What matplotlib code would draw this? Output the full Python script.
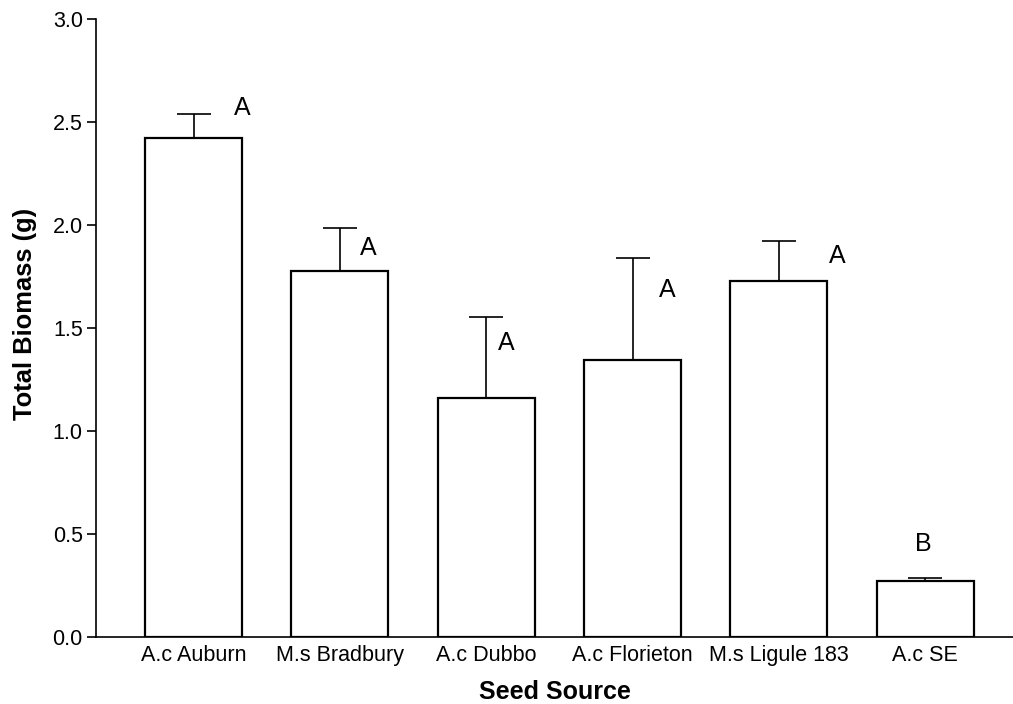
import matplotlib
matplotlib.use("Agg")
import matplotlib.pyplot as plt
import numpy as np

categories = ["A.c Auburn", "M.s Bradbury", "A.c Dubbo", "A.c Florieton", "M.s Ligule 183", "A.c SE"]
means = [2.424, 1.777, 1.159, 1.346, 1.728, 0.273]
errors = [0.115, 0.210, 0.394, 0.494, 0.194, 0.012]
letters = ["A", "A", "A", "A", "A", "B"]
yticks = [0.0, 0.5, 1.0, 1.5, 2.0, 2.5, 3.0]

# annotation placement (offsets relative to bar centre / error top)
letter_dx = [0.33, 0.195, 0.14, 0.236, 0.40, -0.01]
letter_y = [2.568, 1.888, 1.427, 1.684, 1.849, 0.451]

plt.rcParams['font.family'] = ['Liberation Sans', 'DejaVu Sans']

fig = plt.figure(figsize=(10.13, 7.04), dpi=100)
ax = fig.add_axes([96/1013, 1-637/704, 1-96/1013, (637-19)/704])

x = np.arange(len(categories))
ax.bar(x, means, width=0.664, color="white", edgecolor="black", linewidth=1.6, zorder=2)
ax.errorbar(x, means, yerr=[np.zeros(len(errors)), errors], fmt="none",
            ecolor="black", elinewidth=1.2, capsize=12.5, capthick=1.2, zorder=1)

for xi, dx, ly, t in zip(x, letter_dx, letter_y, letters):
    ax.text(xi + dx, ly, t, ha="center", va="center", fontsize=18)

ax.set_xlim(-0.667, 5.6)
ax.set_ylim(0, 3.0)
ax.set_yticks(yticks)
ax.set_yticklabels([f"{v:.1f}" for v in yticks])
ax.set_xticks(x)
ax.set_xticklabels(categories)
ax.tick_params(axis="x", length=0, labelsize=15.5, pad=6)
ax.tick_params(axis="y", length=6.5, width=1.2, labelsize=15.5, pad=3)

for s in ["top", "right"]:
    ax.spines[s].set_visible(False)
for s in ["left", "bottom"]:
    ax.spines[s].set_linewidth(1.2)

ax.set_xlabel("Seed Source", fontsize=18, fontweight="bold", labelpad=10)
ax.set_ylabel("Total Biomass (g)", fontsize=18.4, fontweight="bold", labelpad=10)
ax.yaxis.set_label_coords(-0.064, 0.523)

fig.savefig("out.png", dpi=100)
